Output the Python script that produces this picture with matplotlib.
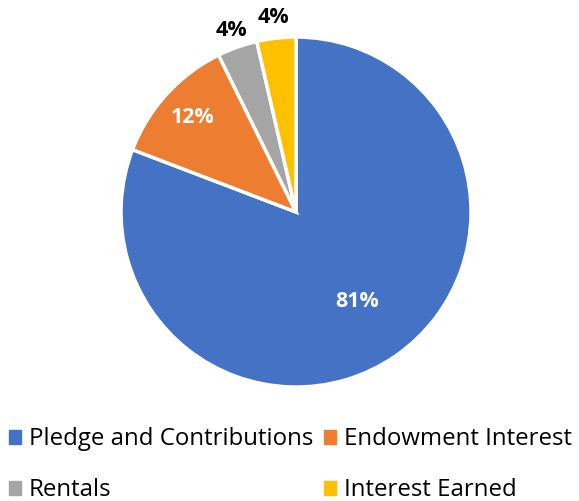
import numpy as np
import matplotlib
matplotlib.use("Agg")
import matplotlib.pyplot as plt

labels = ["Pledge and Contributions", "Endowment Interest", "Rentals", "Interest Earned"]
values = [80.8, 11.9, 3.7, 3.6]
colors = ["#4472C4", "#ED7D31", "#A5A5A5", "#FFC000"]
pct_text = ["81%", "12%", "4%", "4%"]
label_dist = [0.62, 0.80, 1.10, 1.12]
label_colors = ["white", "white", "black", "black"]

plt.rcParams['font.family'] = ['Open Sans', 'DejaVu Sans']

fig = plt.figure(figsize=(5.79, 5.01), dpi=100)
ax = fig.add_axes([0.209, 0.2275, 0.6045, 0.6986])

wedges, _ = ax.pie(values, colors=colors, startangle=90, counterclock=False,
                   radius=1, wedgeprops=dict(edgecolor="white", linewidth=2.5))

for w, txt, d, c in zip(wedges, pct_text, label_dist, label_colors):
    ang = np.deg2rad((w.theta1 + w.theta2) / 2)
    ax.text(d * np.cos(ang), d * np.sin(ang), txt, ha="center", va="center",
            fontsize=15.5, fontweight="bold", color=c)

ax.set_xlim(-1, 1)
ax.set_ylim(-1, 1)
ax.set_aspect("equal")
ax.axis("off")

# legend fills column by column, so reorder to get row-wise layout
order = [0, 2, 1, 3]
handles = [plt.Rectangle((0, 0), 1, 1, color=colors[i]) for i in order]
fig.legend(handles, [labels[i] for i in order], loc="center",
           bbox_to_anchor=(0.502, 0.072), ncol=2, frameon=False, fontsize=17.3,
           handlelength=0.5, handleheight=0.5, handletextpad=0.33,
           columnspacing=0.46, labelspacing=1.12, borderpad=0)

fig.savefig("out.png", dpi=100)
